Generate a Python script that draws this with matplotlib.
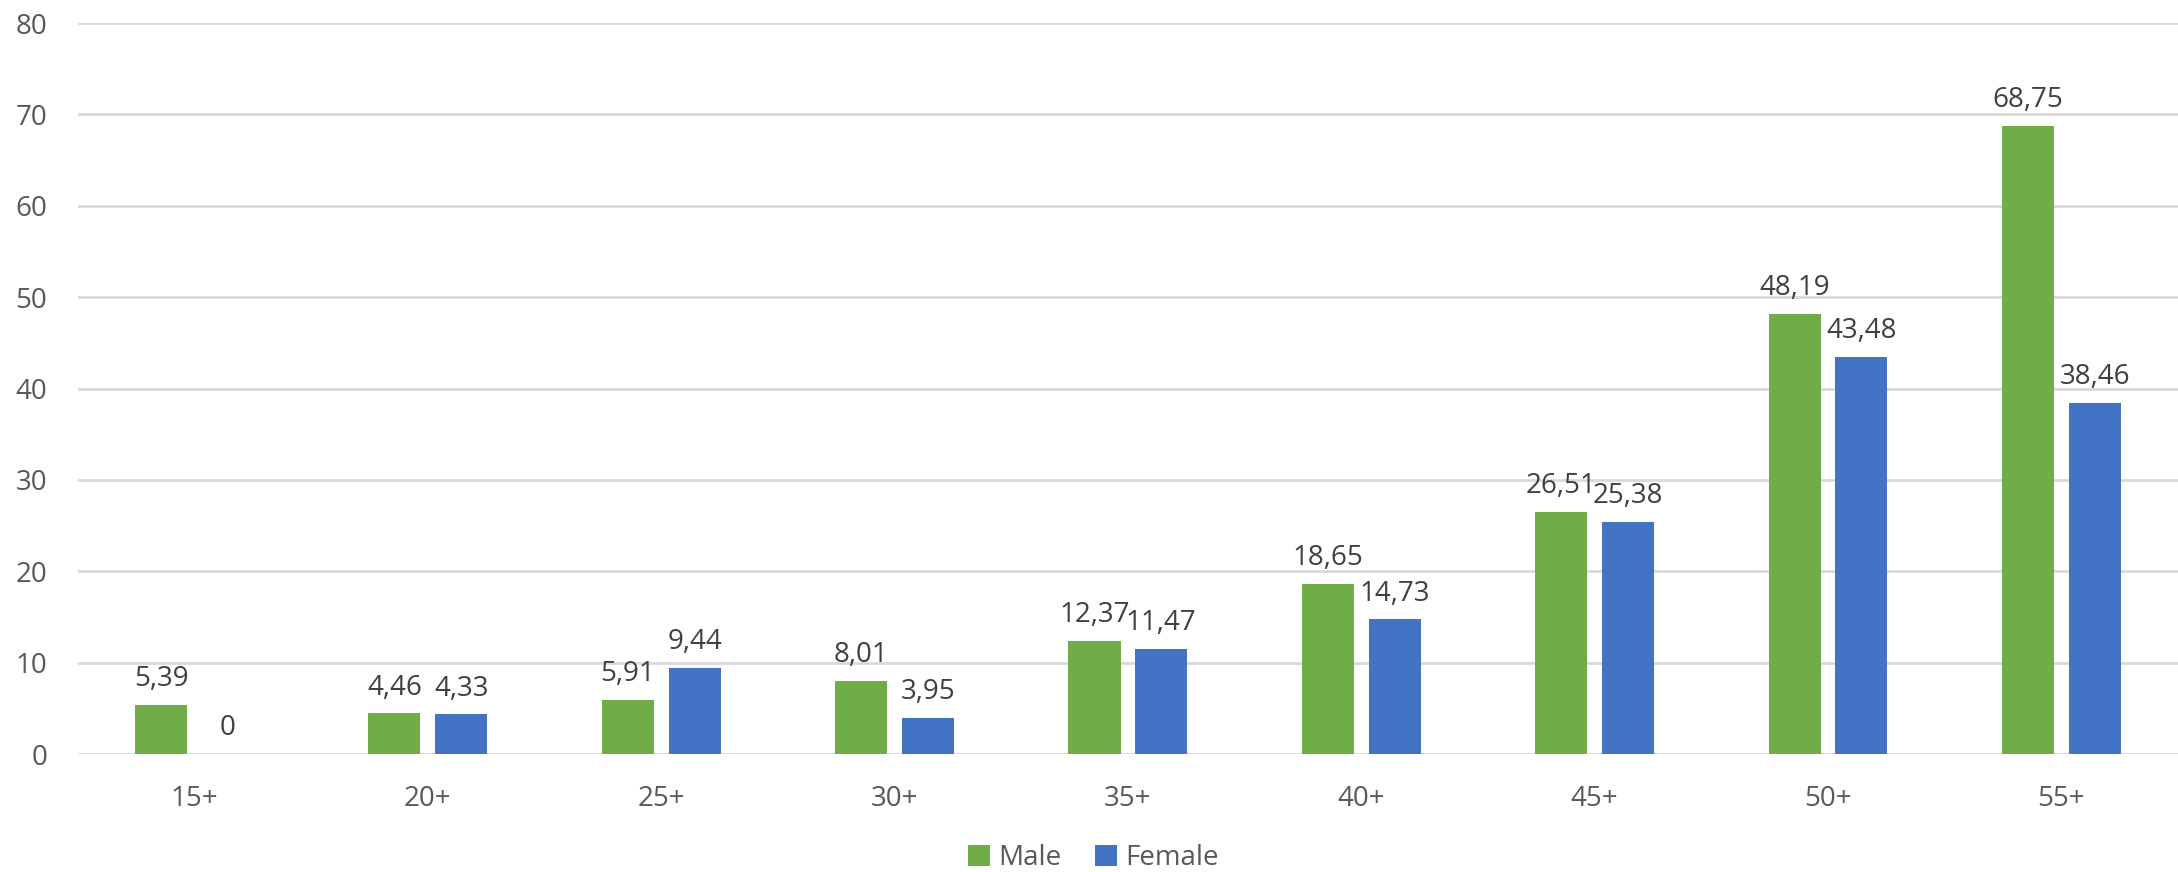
import matplotlib
matplotlib.use("Agg")
import matplotlib.pyplot as plt
import numpy as np

plt.rcParams['font.family'] = ['Open Sans', 'DejaVu Sans']

age_groups = ['15+', '20+', '25+', '30+', '35+', '40+', '45+', '50+', '55+']
male = [5.39, 4.46, 5.91, 8.01, 12.37, 18.65, 26.51, 48.19, 68.75]
female = [0, 4.33, 9.44, 3.95, 11.47, 14.73, 25.38, 43.48, 38.46]

green = '#70AD47'
blue = '#4472C4'
grid_c = '#D9D9D9'
tick_c = '#595959'
label_c = '#404040'

fig = plt.figure(figsize=(21.78, 8.72), dpi=100)
ax = fig.add_axes([0.0357, 0.1353, 0.9643, 0.8383])

x = np.arange(len(age_groups))
w = 0.223
off = 0.143

b1 = ax.bar(x - off, male, w, color=green, label='Male', zorder=3)
b2 = ax.bar(x + off, female, w, color=blue, label='Female', zorder=3)


def fmt(v):
    s = f'{v:.2f}'.rstrip('0').rstrip('.')
    return s.replace('.', ',')


for bars, vals in ((b1, male), (b2, female)):
    for bar, v in zip(bars, vals):
        ax.annotate(fmt(v), xy=(bar.get_x() + bar.get_width() / 2, v),
                    xytext=(0, 13.5), textcoords='offset points',
                    ha='center', va='baseline', fontsize=20, color=label_c)

ax.set_xlim(-0.5, len(age_groups) - 0.5)
ax.set_ylim(0, 80)
ax.set_yticks(np.arange(0, 81, 10))
ax.set_xticks(x)
ax.set_xticklabels(age_groups)
ax.yaxis.grid(True, color=grid_c, lw=2, zorder=0)
ax.set_axisbelow(True)
for s in ax.spines.values():
    s.set_visible(False)
ax.tick_params(axis='y', length=0, pad=22, labelsize=20, labelcolor=tick_c)
ax.tick_params(axis='x', length=0, pad=22, labelsize=20, labelcolor=tick_c)

leg = fig.legend(handles=[b1, b2], loc='center', bbox_to_anchor=(0.502, 0.016),
                 ncol=2, frameon=False, fontsize=20, handlelength=0.8,
                 handleheight=0.8, handletextpad=0.3, columnspacing=1.2)
for t in leg.get_texts():
    t.set_color(tick_c)

fig.savefig('out.png', dpi=100)
